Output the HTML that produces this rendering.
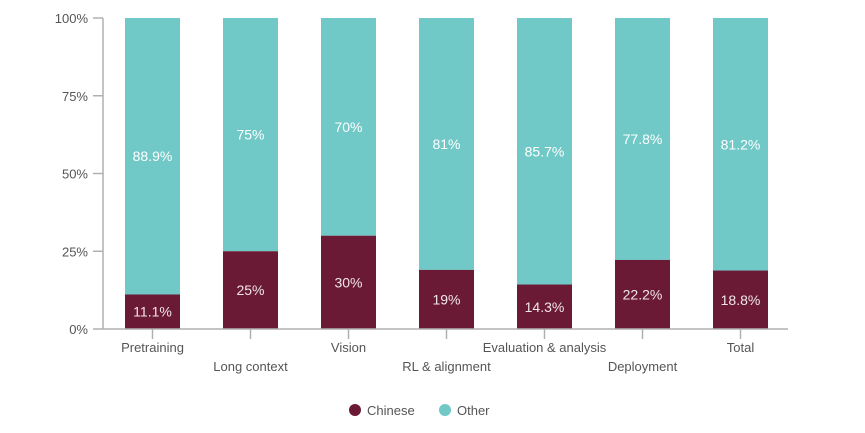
<!DOCTYPE html>
<html><head><meta charset="utf-8"><style>
body{margin:0;background:#fff;}
svg text{font-family:"Liberation Sans",sans-serif;}
</style></head><body>
<svg id="chart" width="865" height="428"></svg>
<script>
const categories=["Pretraining","Long context","Vision","RL & alignment","Evaluation & analysis","Deployment","Total"];
const chineseValues=[11.1,25,30,19,14.3,22.2,18.8];
const otherValues=[88.9,75,70,81,85.7,77.8,81.2];
const yTicks=[0,25,50,75,100];
const svg=document.getElementById('chart');
const NS='http://www.w3.org/2000/svg';
const x0=103,x1=788,yTop=18,yBot=329;
const step=98,bw=55,firstC=152.5;
const y=v=>yBot-(v/100)*(yBot-yTop);
const xc=i=>firstC+i*step;
function mk(tag,attrs,parent){const e=document.createElementNS(NS,tag);for(const k in attrs)e.setAttribute(k,attrs[k]);(parent||svg).appendChild(e);return e;}
yTicks.forEach(t=>{
  const l=mk('line',{x1:93,x2:x0,y1:y(t),y2:y(t),stroke:'#b0b0b0','stroke-width':1.5});
  
  
  const tx=mk('text',{x:88,y:y(t)+5,'text-anchor':'end','font-size':13,fill:'#555'});
  tx.textContent=t+'%';
  
  
});
categories.forEach((c,i)=>{
  const cx=xc(i);
  const o=mk('rect',{x:cx-bw/2,y:y(100),width:bw,height:y(chineseValues[i])-y(100),fill:'#70c8c7'});
  
  
  const ch=mk('rect',{x:cx-bw/2,y:y(chineseValues[i]),width:bw,height:yBot-y(chineseValues[i]),fill:'#6b1a35'});
  
  
  const lc=mk('text',{x:cx,y:(y(chineseValues[i])+yBot)/2+5,'text-anchor':'middle','font-size':14,fill:'#f0e6ea'});
  lc.textContent=chineseValues[i]+'%';
  
  
  const lo=mk('text',{x:cx,y:(y(100)+y(chineseValues[i]))/2+5,'text-anchor':'middle','font-size':14,fill:'#ffffff'});
  lo.textContent=otherValues[i]+'%';
  
  
  const tk=mk('line',{x1:cx,x2:cx,y1:yBot,y2:339,stroke:'#b0b0b0','stroke-width':1.5});
  
  
  const xl=mk('text',{x:cx,y:i%2===0?352:371,'text-anchor':'middle','font-size':13,fill:'#555'});
  xl.textContent=c;
  
  
});
const ax=mk('line',{x1:x0,x2:x0,y1:yTop,y2:yBot,stroke:'#b0b0b0','stroke-width':1.5});


const bx=mk('line',{x1:x0,x2:x1,y1:yBot,y2:yBot,stroke:'#b0b0b0','stroke-width':1.5});


const lg=mk('g',{});


const c1=mk('circle',{cx:355,cy:410,r:6,fill:'#6b1a35'},lg);


const t1=mk('text',{x:367,y:415,'font-size':13,fill:'#555'},lg);
t1.textContent='Chinese';


const c2=mk('circle',{cx:445,cy:410,r:6,fill:'#70c8c7'},lg);


const t2=mk('text',{x:457,y:415,'font-size':13,fill:'#555'},lg);
t2.textContent='Other';


</script>
</body></html>
